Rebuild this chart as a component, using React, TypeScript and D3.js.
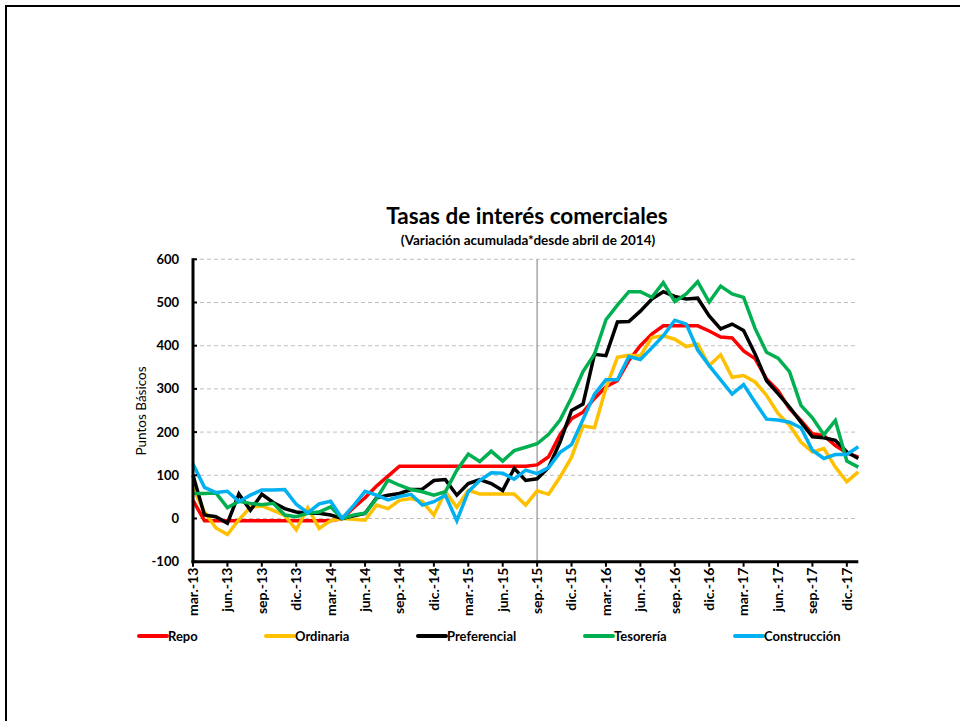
import React from 'react';
import * as d3 from 'd3';

// Monthly categories, mar-13 .. ene-18
const monthNames = ['ene.', 'feb.', 'mar.', 'abr.', 'may.', 'jun.', 'jul.', 'ago.', 'sep.', 'oct.', 'nov.', 'dic.'];
const categories: string[] = [];
for (let k = 0; k < 59; k++) {
  const m = (2 + k) % 12;
  const y = 13 + Math.floor((2 + k) / 12);
  categories.push(`${monthNames[m]}-${y}`);
}

const tickLabels = [
  'mar.-13', 'jun.-13', 'sep.-13', 'dic.-13', 'mar.-14', 'jun.-14', 'sep.-14', 'dic.-14',
  'mar.-15', 'jun.-15', 'sep.-15', 'dic.-15', 'mar.-16', 'jun.-16', 'sep.-16', 'dic.-16',
  'mar.-17', 'jun.-17', 'sep.-17', 'dic.-17',
];
const yTicks = [-100, 0, 100, 200, 300, 400, 500, 600];

const repo = [
  42, -5, -5, -5, -5, -5, -5, -5, -5, -5, -5, -5, -5, 0, 25, 48, 75, 98,
  121, 121, 121, 121, 121, 121, 121, 121, 121, 121, 121, 121,
  124, 143, 194, 231, 246, 278, 305, 319, 366, 400, 427, 446, 446, 446, 446, 434,
  420, 418, 388, 370, 323, 296, 254, 227, 196, 192, 169, 152, 142,
];
const ordinaria = [
  70, 15, -22, -37, -3, 26, 29, 19, 7, -26, 25, -23, -5, 0, -2, -4, 31, 23,
  42, 46, 39, 8, 62, 26, 65, 57, 57, 57, 57, 31,
  64, 56, 96, 142, 214, 210, 302, 373, 378, 377, 419, 423, 415, 398, 404, 354,
  379, 327, 331, 316, 285, 243, 216, 177, 154, 162, 119, 85, 108,
];
const preferencial = [
  100, 8, 4, -11, 57, 19, 56, 37, 23, 15, 12, 12, 8, 0, 6, 12, 48, 54,
  58, 67, 68, 88, 90, 54, 81, 90, 81, 65, 116, 88,
  92, 118, 177, 250, 265, 380, 377, 455, 456, 480, 508, 525, 514, 508, 510, 469,
  439, 450, 435, 381, 319, 289, 258, 223, 189, 187, 181, 154, 139,
];
const tesoreria = [
  58, 58, 59, 25, 40, 35, 32, 35, 8, 4, 12, 15, 27, 0, 8, 12, 46, 89,
  77, 67, 62, 54, 62, 112, 149, 132, 156, 133, 157, 165,
  173, 195, 228, 280, 340, 380, 460, 494, 525, 525, 512, 546, 502, 520, 548, 501,
  538, 520, 512, 440, 385, 371, 340, 262, 233, 194, 227, 133, 119,
];
const construccion = [
  126, 72, 60, 63, 39, 54, 66, 66, 67, 33, 13, 34, 40, 0, 30, 63, 54, 43,
  51, 56, 31, 39, 54, -5, 62, 88, 106, 105, 91, 112,
  104, 118, 153, 171, 229, 288, 321, 321, 375, 368, 395, 423, 459, 450, 390, 354,
  321, 288, 310, 269, 230, 228, 223, 210, 158, 139, 148, 148, 166,
];

const seriesNames = ['Repo', 'Ordinaria', 'Preferencial', 'Tesorería', 'Construcción'];
const seriesColors = ['#FF0000', '#FFC000', '#000000', '#00B050', '#00B0F0'];
const seriesValues = [repo, ordinaria, preferencial, tesoreria, construccion];

const FONT = 'Lato, "Liberation Sans", sans-serif';

export default function App() {
  const left = 193;
  const right = 858.3;
  const top = 259.3;
  const bottom = 561.7;

  const x = d3.scalePoint<string>().domain(categories).range([left, right]);
  const y = d3.scaleLinear().domain([-100, 600]).range([bottom, top]);

  const line = d3
    .line<number>()
    .x((_, i) => x(categories[i]) as number)
    .y((d) => y(d));

  // legend swatch start positions
  const legendX = [139, 266, 418, 585, 735];

  return (
    <svg
      width={960}
      height={721}
      style={{ position: 'absolute', left: 0, top: 0, background: '#fff' }}
      fontFamily={FONT}
    >
      {/* frame */}
      <line x1={5} x2={960} y1={6} y2={6} stroke="#000" strokeWidth={2} />
      <line x1={6} x2={6} y1={5} y2={721} stroke="#000" strokeWidth={2} />

      {/* title */}
      <text x={527} y={224} textAnchor="middle" fontSize={22.5} fontWeight="bold">
        Tasas de interés comerciales
      </text>
      <text x={528} y={245} textAnchor="middle" fontSize={13.5} fontWeight="bold">
        (Variación acumulada*desde abril de 2014)
      </text>

      {/* gridlines */}
      {yTicks.filter((t) => t > -100).map((t) => (
        <line
          key={t}
          x1={left}
          x2={right}
          y1={y(t)}
          y2={y(t)}
          stroke="#BFBFBF"
          strokeWidth={1}
          strokeDasharray="4 3"
        />
      ))}

      {/* marker at sep-15 */}
      <line
        x1={x('sep.-15')}
        x2={x('sep.-15')}
        y1={top}
        y2={bottom}
        stroke="#A6A6A6"
        strokeWidth={1.5}
      />

      {/* series */}
      {seriesValues.map((vals, s) => (
        <path
          key={seriesNames[s]}
          d={line(vals) || ''}
          fill="none"
          stroke={seriesColors[s]}
          strokeWidth={3.5}
          strokeLinejoin="miter"
        />
      ))}

      {/* y axis */}
      <line x1={left} x2={left} y1={top - 1} y2={bottom + 1.5} stroke="#000" strokeWidth={3} />
      {yTicks.map((t) => (
        <g key={t}>
          <line x1={left} x2={left + 4} y1={y(t)} y2={y(t)} stroke="#000" strokeWidth={2} />
          <text x={179} y={y(t)} dy="0.35em" textAnchor="end" fontSize={13} fontWeight="bold">
            {t}
          </text>
        </g>
      ))}
      <text
        transform={`translate(146,411) rotate(-90)`}
        textAnchor="middle"
        fontSize={13.5}
      >
        Puntos Básicos
      </text>

      {/* x axis */}
      <line x1={left - 1.5} x2={right} y1={bottom} y2={bottom} stroke="#000" strokeWidth={3} />
      {tickLabels.map((lab) => {
        const px = x(lab) as number;
        return (
          <g key={lab}>
            <line x1={px} x2={px} y1={bottom} y2={bottom + 5} stroke="#000" strokeWidth={2} />
            <text
              transform={`translate(${px},${bottom + 6}) rotate(-90)`}
              dy="0.35em"
              textAnchor="end"
              fontSize={14}
              fontWeight="bold"
            >
              {lab}
            </text>
          </g>
        );
      })}

      {/* legend */}
      {seriesNames.map((name, s) => (
        <g key={name}>
          <line
            x1={legendX[s]}
            x2={legendX[s] + 28}
            y1={636}
            y2={636}
            stroke={seriesColors[s]}
            strokeWidth={4}
            strokeLinecap="round"
          />
          <text x={legendX[s] + 29} y={636} dy="0.35em" fontSize={13} fontWeight="bold">
            {name}
          </text>
        </g>
      ))}
    </svg>
  );
}
